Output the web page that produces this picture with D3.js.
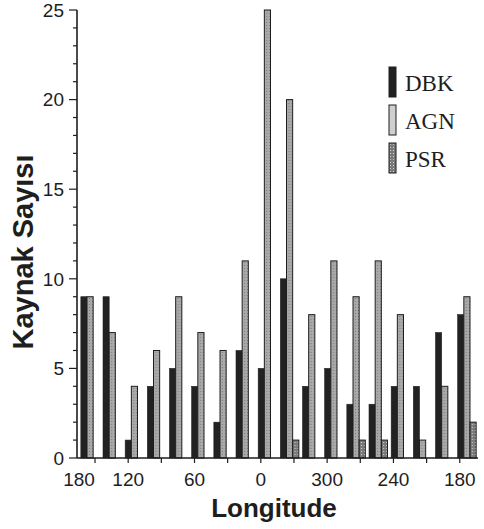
<!DOCTYPE html>
<html>
<head>
<meta charset="utf-8">
<script src="https://cdn.jsdelivr.net/npm/d3@7"></script>
<style>
  html, body { margin: 0; padding: 0; background: #fff; }
  svg { display: block; }
</style>
</head>
<body>
<svg id="chart" width="484" height="529"></svg>
<script>
// Source counts per 20-degree longitude bin, read left to right
const series = ["DBK", "AGN", "PSR"];
const dbk = [9, 9, 1, 4, 5, 4, 2, 6, 5, 10, 4, 5, 3, 3, 4, 4, 7, 8];
const agn = [9, 7, 4, 6, 9, 7, 6, 11, 25, 20, 8, 11, 9, 11, 8, 1, 4, 9];
const psr = [0, 0, 0, 0, 0, 0, 0, 0, 0, 1, 0, 0, 1, 1, 0, 0, 0, 2];
const lonLabels = [180, 120, 60, 0, 300, 240, 180];
const yTicks = [0, 5, 10, 15, 20, 25];

const bins = d3.range(dbk.length);
const rows = bins.map(i => ({ bin: i, DBK: dbk[i], AGN: agn[i], PSR: psr[i] }));

const svg = d3.select("#chart");
const plotL = 77, plotR = 478, plotT = 10, plotB = 458;
const ink = "#1e1e1e";

// patterns for the textured bar fills
const defs = svg.append("defs");
const pA = defs.append("pattern").attr("id", "agnFill")
  .attr("patternUnits", "userSpaceOnUse").attr("width", 3).attr("height", 3);
pA.append("rect").attr("width", 3).attr("height", 3).attr("fill", "#a9a9a9");
pA.append("rect").attr("x", 1).attr("y", 1).attr("width", 1).attr("height", 1).attr("fill", "#7e7e7e");
const pP = defs.append("pattern").attr("id", "psrFill")
  .attr("patternUnits", "userSpaceOnUse").attr("width", 3).attr("height", 3);
pP.append("rect").attr("width", 3).attr("height", 3).attr("fill", "#7a7a7a");
pP.append("rect").attr("x", 1).attr("y", 1).attr("width", 1).attr("height", 1).attr("fill", "#d0d0d0");

const fills = { DBK: "#222", AGN: "url(#agnFill)", PSR: "url(#psrFill)" };

// scales
const y = d3.scaleLinear().domain([0, 25]).range([plotB, plotT]);
const xBin = d3.scaleBand().domain(bins).range([plotL + 2, plotR]).padding(0);
const xSer = d3.scaleBand().domain(series).range([0, xBin.bandwidth()])
  .paddingInner(0).paddingOuter(0.3);
// longitude runs westward across the axis (signed degrees, east positive)
const xLon = d3.scaleLinear().domain([164.5, -196.5]).range([plotL + 2, plotR]);

// bars
const g = svg.append("g");
g.selectAll("g.bin").data(rows).join("g")
  .attr("class", "bin")
  .attr("transform", d => `translate(${xBin(d.bin)},0)`)
  .selectAll("rect")
  .data(d => series.map(s => ({ s, v: d[s] })).filter(e => e.v > 0))
  .join("rect")
  .attr("x", e => xSer(e.s))
  .attr("width", xSer.bandwidth())
  .attr("y", e => y(e.v))
  .attr("height", e => y(0) - y(e.v))
  .attr("fill", e => fills[e.s])
  .attr("stroke", ink)
  .attr("stroke-width", e => e.s === "DBK" ? 0.6 : 1);

// y axis with minor ticks
const yAxis = svg.append("g").attr("transform", `translate(${plotL},0)`);
yAxis.append("line").attr("y1", y(0)).attr("y2", y(25))
  .attr("stroke", ink).attr("stroke-width", 1.6);
yAxis.selectAll("line.minor").data(d3.range(0, 26)).join("line")
  .attr("class", "minor")
  .attr("x1", d => yTicks.includes(d) ? -8 : -4).attr("x2", 0)
  .attr("y1", d => y(d)).attr("y2", d => y(d))
  .attr("stroke", ink).attr("stroke-width", 1.2);
yAxis.selectAll("text").data(yTicks).join("text")
  .attr("x", -13).attr("y", d => y(d)).attr("dy", "0.36em")
  .attr("text-anchor", "end")
  .attr("font-family", "Liberation Sans, Arial, sans-serif")
  .attr("font-size", 19).attr("fill", ink)
  .text(d => d);

// x axis: ticks every 30 degrees, labels every 60
const xAxis = svg.append("g").attr("transform", `translate(0,${plotB})`);
xAxis.append("line").attr("x1", plotL).attr("x2", plotR)
  .attr("stroke", ink).attr("stroke-width", 1.6);
xAxis.selectAll("line.tick").data(d3.range(150, -181, -30)).join("line")
  .attr("class", "tick")
  .attr("x1", d => xLon(d)).attr("x2", d => xLon(d))
  .attr("y1", 0).attr("y2", 5)
  .attr("stroke", ink).attr("stroke-width", 1.2);
const labelPos = lonLabels.map((l, i) => {
  const signed = i === 0 ? l : (l > 180 || i === lonLabels.length - 1 ? l - 360 : l);
  return { l, x: Math.max(xLon(signed), plotL + 2) };
});
xAxis.selectAll("text").data(labelPos).join("text")
  .attr("x", d => d.x).attr("y", 28)
  .attr("text-anchor", "middle")
  .attr("font-family", "Liberation Sans, Arial, sans-serif")
  .attr("font-size", 19).attr("fill", ink)
  .text(d => d.l);

// axis titles
svg.append("text")
  .attr("x", 274).attr("y", 517)
  .attr("text-anchor", "middle")
  .attr("font-family", "Liberation Sans, Arial, sans-serif")
  .attr("font-weight", "bold").attr("font-size", 26).attr("fill", ink)
  .text("Longitude");
svg.append("text")
  .attr("transform", "translate(33,252) rotate(-90)")
  .attr("text-anchor", "middle")
  .attr("font-family", "Liberation Sans, Arial, sans-serif")
  .attr("font-weight", "bold").attr("font-size", 29).attr("fill", ink)
  .text("Kaynak Sayısı");

// legend
const legend = svg.append("g").attr("transform", "translate(389,67)");
const legFill = { DBK: "#222", AGN: "#cfcfcf", PSR: "url(#psrFill)" };
const item = legend.selectAll("g").data(series).join("g")
  .attr("transform", (d, i) => `translate(0,${i * 38})`);
item.append("rect").attr("width", 7).attr("height", 30)
  .attr("fill", d => legFill[d]).attr("stroke", ink).attr("stroke-width", 1);
item.append("text").attr("x", 16).attr("y", 24)
  .attr("font-family", "Liberation Serif, Times New Roman, serif")
  .attr("font-size", 23).attr("fill", ink)
  .text(d => d);
</script>
</body>
</html>
